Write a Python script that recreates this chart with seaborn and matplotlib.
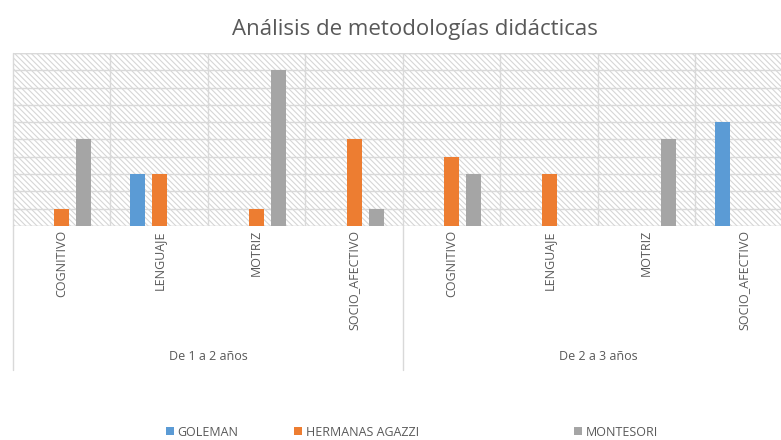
import numpy as np
import pandas as pd
import matplotlib.pyplot as plt
from matplotlib.patches import Rectangle
from matplotlib.lines import Line2D
import seaborn as sns

# chart data
categories = ["COGNITIVO", "LENGUAJE", "MOTRIZ", "SOCIO_AFECTIVO"] * 2
groups = ["De 1 a 2 años"] * 4 + ["De 2 a 3 años"] * 4
series = ["GOLEMAN", "HERMANAS AGAZZI", "MONTESORI"]
goleman = [0, 3, 0, 0, 0, 0, 0, 6]
agazzi = [1, 3, 1, 5, 4, 3, 0, 0]
montesori = [5, 0, 9, 1, 3, 0, 5, 0]
colors = ["#5B9BD5", "#ED7D31", "#A5A5A5"]

sns.set_style("white")
plt.rcParams['font.family'] = ['Open Sans', 'DejaVu Sans']
plt.rcParams['hatch.linewidth'] = 0.8

slots = [f"{g}|{c}" for g, c in zip(groups, categories)]
rows = []
for name, vals in zip(series, [goleman, agazzi, montesori]):
    for s, v in zip(slots, vals):
        rows.append({"slot": s, "serie": name, "valor": v})
df = pd.DataFrame(rows)

fig = plt.figure(figsize=(7.81, 4.40), dpi=100)
ax = fig.add_axes([13 / 781, 1 - 226 / 440, 780 / 781, 173 / 440])

# hatched background like the Excel pattern fill
ax.add_patch(Rectangle((0, 0), 1, 1, transform=ax.transAxes, facecolor="white",
                       edgecolor="#d6d6d6", hatch="\\" * 6, lw=0, zorder=0))

sns.barplot(data=df, x="slot", y="valor", hue="serie", order=slots,
            hue_order=series, palette=colors, saturation=1, width=0.675,
            gap=0.33, linewidth=0, ax=ax, legend=True, zorder=2)

ax.set_xlim(-0.5, 7.5)
ax.set_ylim(0, 10)
ax.set_yticks(range(0, 11))
ax.set_yticklabels([])
ax.set_axisbelow(True)
ax.yaxis.grid(True, color="#d9d9d9", lw=1, zorder=1)
for x in np.arange(0.5, 7.5, 1):
    ax.axvline(x, color="#d9d9d9", lw=1, zorder=1)
for sp in ax.spines.values():
    sp.set_visible(False)
ax.axhline(0, color="#d9d9d9", lw=1, zorder=1)
ax.axhline(10, color="#d9d9d9", lw=1, zorder=1)

ax.set_xticks(range(8))
ax.set_xticklabels(categories, rotation=90, fontsize=9, color="#595959",
                   va="top")
ax.tick_params(axis="both", length=0, pad=3)
ax.set_xlabel("")
ax.set_ylabel("")

# group separator lines and group labels
for x in [-0.5, 3.5]:
    ax.add_line(Line2D([x, x], [0, -0.83], transform=ax.get_xaxis_transform(),
                       color="#d9d9d9", lw=1, clip_on=False))
ax.add_line(Line2D([-0.5, -0.5], [0, 1], transform=ax.get_xaxis_transform(),
                   color="#d9d9d9", lw=1, clip_on=False))
for i, g in enumerate(dict.fromkeys(groups)):
    ax.text(i * 4 + 1.5, -0.755, g, transform=ax.get_xaxis_transform(),
            ha="center", va="center", fontsize=9, color="#595959")

fig.text(415 / 781, 1 - 30 / 440, "Análisis de metodologías didácticas",
         ha="center", va="center", fontsize=16, color="#595959")

# legend entries placed as in the reference
handles, labels = ax.get_legend_handles_labels()
ax.get_legend().remove()
for h, l, xpos in zip(handles, labels, [160, 288, 568]):
    fig.legend([h], [l], loc="center left",
               bbox_to_anchor=(xpos / 781, 1 - 432 / 440), frameon=False,
               handlelength=0.6, handleheight=0.6, handletextpad=0.3,
               fontsize=9, labelcolor="#595959", borderpad=0)

fig.savefig("out.png", dpi=100)
